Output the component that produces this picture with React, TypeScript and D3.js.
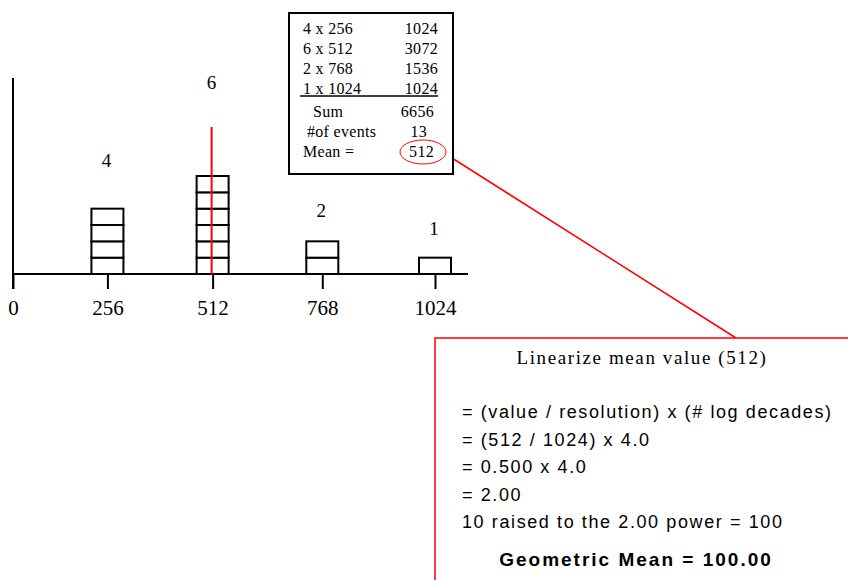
import { useEffect, useRef } from "react";
import * as d3 from "d3";

// channel values and how many events landed in each
const channels = [256, 512, 768, 1024];
const counts = [4, 6, 2, 1];
const xTicks = [0, 256, 512, 768, 1024];
const resolution = 1024;
const logDecades = 4.0;

const serif = "'Liberation Serif', 'Times New Roman', serif";
const sans = "'Liberation Sans', Arial, sans-serif";

const App = () => {
  const svgRef = useRef<SVGSVGElement | null>(null);

  useEffect(() => {
    const svg = d3.select(svgRef.current);
    svg.selectAll("*").remove();

    const width = 848;
    const height = 580;
    svg.attr("viewBox", `0 0 ${width} ${height}`);

    // the hand-drawn axis stretches a little toward the right end
    const x = d3.scalePow().exponent(1.08).domain([0, 1024]).range([13, 435]);
    const y = d3.scaleLinear().domain([0, 12]).range([274, 78]);
    const barW = 32;

    const totals = channels.map((v, i) => v * counts[i]);
    const sum = d3.sum(totals);
    const events = d3.sum(counts);
    const mean = sum / events;

    // x axis: ticks hang below the baseline
    const xAxis = d3
      .axisBottom(x)
      .tickValues(xTicks)
      .tickSize(15)
      .tickSizeOuter(0)
      .tickPadding(11)
      .tickFormat((d) => `${d}`);

    const ax = svg
      .append("g")
      .attr("transform", `translate(0,${y(0)})`)
      .call(xAxis);
    ax.select(".domain").remove();
    ax.selectAll(".tick line").attr("stroke", "#000").attr("stroke-width", 2);
    ax.selectAll(".tick text")
      .attr("fill", "#000")
      .attr("font-family", serif)
      .attr("font-size", 21);

    svg
      .append("line")
      .attr("x1", x(0))
      .attr("x2", 468)
      .attr("y1", y(0))
      .attr("y2", y(0))
      .attr("stroke", "#000")
      .attr("stroke-width", 2);

    svg
      .append("line")
      .attr("x1", x(0))
      .attr("x2", x(0))
      .attr("y1", y(12))
      .attr("y2", y(0) + 15)
      .attr("stroke", "#000")
      .attr("stroke-width", 2);

    // stacked unit cells
    const cells = channels.flatMap((v, i) =>
      d3.range(counts[i]).map((k) => ({ v, k }))
    );
    svg
      .append("g")
      .selectAll("rect")
      .data(cells)
      .join("rect")
      .attr("x", (d) => x(d.v) - barW / 2)
      .attr("y", (d) => y(d.k + 1))
      .attr("width", barW)
      .attr("height", (d) => y(d.k) - y(d.k + 1))
      .attr("fill", "#fff")
      .attr("stroke", "#000")
      .attr("stroke-width", 2);

    // count labels float higher over the taller stacks
    svg
      .append("g")
      .selectAll("text")
      .data(channels)
      .join("text")
      .attr("x", (d) => x(d) - 1)
      .attr("y", (d, i) => y(counts[i]) - 22 - 0.3 * counts[i] ** 3)
      .attr("text-anchor", "middle")
      .attr("font-family", serif)
      .attr("font-size", 19)
      .text((d, i) => counts[i]);

    // mean marker
    svg
      .append("line")
      .attr("x1", x(mean) - 1)
      .attr("x2", x(mean) - 1)
      .attr("y1", y(9))
      .attr("y2", y(0))
      .attr("stroke", "#ff0000")
      .attr("stroke-width", 2);

    // connector from the table to the explanation box
    svg
      .append("line")
      .attr("x1", 452)
      .attr("y1", 158)
      .attr("x2", 736)
      .attr("y2", 338)
      .attr("stroke", "#ff0000")
      .attr("stroke-width", 1.5);

    // summary table
    const tb = svg
      .append("g")
      .attr("font-family", serif)
      .attr("font-size", 16)
      .attr("letter-spacing", 0.3);
    tb.append("rect")
      .attr("x", 289)
      .attr("y", 13)
      .attr("width", 164)
      .attr("height", 161)
      .attr("fill", "#fff")
      .attr("stroke", "#000")
      .attr("stroke-width", 2);

    channels.forEach((v, i) => {
      const by = 34 + i * 20;
      tb.append("text")
        .attr("x", 303)
        .attr("y", by)
        .text(`${counts[i]} x ${v}`);
      tb.append("text")
        .attr("x", 438)
        .attr("y", by)
        .attr("text-anchor", "end")
        .text(totals[i]);
    });
    tb.append("line")
      .attr("x1", 300)
      .attr("x2", 438)
      .attr("y1", 96)
      .attr("y2", 96)
      .attr("stroke", "#000")
      .attr("stroke-width", 1.5);

    const summary = [
      { label: "Sum", value: `${sum}`, lx: 313, vx: 434 },
      { label: "#of events", value: `${events}`, lx: 307, vx: 427 },
      { label: "Mean =", value: `${mean}`, lx: 303, vx: 434 },
    ];
    summary.forEach((s, i) => {
      const by = 117 + i * 20;
      tb.append("text").attr("x", s.lx).attr("y", by).text(s.label);
      tb.append("text")
        .attr("x", s.vx)
        .attr("y", by)
        .attr("text-anchor", "end")
        .text(s.value);
    });
    tb.append("ellipse")
      .attr("cx", 423)
      .attr("cy", 152)
      .attr("rx", 23)
      .attr("ry", 12)
      .attr("fill", "none")
      .attr("stroke", "#ff0000")
      .attr("stroke-width", 1);

    // explanation box
    const ratio = mean / resolution;
    const logValue = ratio * logDecades;
    const geo = Math.pow(10, logValue);

    svg
      .append("rect")
      .attr("x", 435)
      .attr("y", 338)
      .attr("width", 430)
      .attr("height", 260)
      .attr("fill", "#fff")
      .attr("stroke", "#ff0000")
      .attr("stroke-width", 1.5);

    svg
      .append("text")
      .attr("x", 642)
      .attr("y", 364)
      .attr("text-anchor", "middle")
      .attr("font-family", serif)
      .attr("font-size", 19)
      .attr("letter-spacing", 1.6)
      .text(`Linearize mean value (${mean})`);

    const steps = [
      "= (value / resolution) x (# log decades)",
      `= (${mean} / ${resolution}) x ${logDecades.toFixed(1)}`,
      `= ${ratio.toFixed(3)} x ${logDecades.toFixed(1)}`,
      `= ${logValue.toFixed(2)}`,
      `10 raised to the ${logValue.toFixed(2)} power = ${Math.round(geo)}`,
    ];
    svg
      .append("g")
      .selectAll("text")
      .data(steps)
      .join("text")
      .attr("x", 462)
      .attr("y", (d, i) => 418 + i * 27.5)
      .attr("font-family", sans)
      .attr("font-size", 18)
      .attr("letter-spacing", 1.6)
      .text((d) => d);

    svg
      .append("text")
      .attr("x", 636)
      .attr("y", 566)
      .attr("text-anchor", "middle")
      .attr("font-family", sans)
      .attr("font-size", 19)
      .attr("font-weight", "bold")
      .attr("letter-spacing", 2)
      .text(`Geometric Mean = ${geo.toFixed(2)}`);
  }, []);

  return (
    <svg
      ref={svgRef}
      role="img"
      aria-label="Geometric mean calculation"
      width={848}
      height={580}
      style={{ position: "absolute", left: 0, top: 0, background: "#fff" }}
    />
  );
};

export default App;
